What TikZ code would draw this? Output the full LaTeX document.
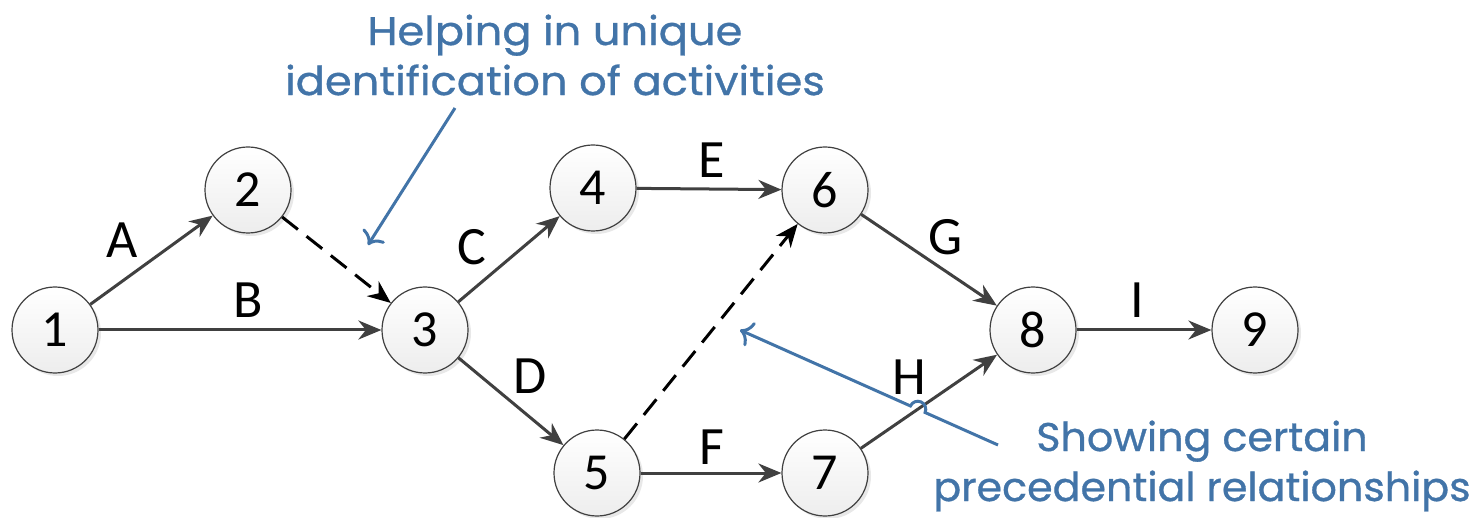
\documentclass[tikz,border=0pt]{standalone}
\usepackage{fontspec}
\setmainfont{Carlito}
\newfontfamily\notefont[FakeStretch=1.08,FakeBold=0.8]{Poppins}
\newfontfamily\notefontnarrow[FakeStretch=1.03,FakeBold=0.8]{Poppins}
\usetikzlibrary{arrows.meta,shadows,calc,intersections}
\definecolor{edgegray}{HTML}{404040}
\definecolor{noteblue}{HTML}{4274A8}
\begin{document}
\begin{tikzpicture}[x=1pt,y=1pt,
  event/.style={circle, draw=edgegray, line width=1.2pt, minimum size=86pt,
    inner sep=0pt, top color=white, bottom color=gray!14,
    drop shadow={shadow xshift=3pt, shadow yshift=-3pt, opacity=0.18},
    font=\fontsize{52}{52}\selectfont},
  activity/.style={draw=edgegray, line width=3pt, -{Stealth[length=23pt,width=19pt]}},
  dummy/.style={draw=black, line width=3pt, dash pattern=on 20pt off 11pt,
    -{Stealth[length=23pt,width=19pt]}},
  actlabel/.style={font=\fontsize{54}{54}\selectfont, inner sep=0pt},
  note/.style={text=noteblue, font=\notefont\fontsize{40}{50}\selectfont, align=center},
  pointer/.style={draw=noteblue, line width=3pt, -{To[length=12pt,width=26pt]}}
]
\useasboundingbox (0,0) rectangle (1477,-518);

% events
\node[event] (n1) at (55,-330) {1};
\node[event] (n2) at (248,-190) {2};
\node[event] (n3) at (425,-330) {3};
\node[event] (n4) at (593,-188) {4};
\node[event] (n5) at (597,-473) {5};
\node[event] (n6) at (825,-190) {6};
\node[event] (n7) at (825,-473) {7};
\node[event] (n8) at (1033,-330) {8};
\node[event] (n9) at (1255,-330) {9};

% activities
\draw[activity] (n1) -- (n2);
\draw[activity] (n1) -- (n3);
\draw[dummy] (n2) -- (n3);
\draw[activity] (n3) -- (n4);
\draw[activity] (n3) -- (n5);
\draw[activity] (n4) -- (n6);
\draw[dummy] (n5) -- (n6);
\draw[activity] (n5) -- (n7);
\draw[activity] (n6) -- (n8);
\draw[activity] (n7) -- (n8);
\draw[activity] (n8) -- (n9);

% activity labels
\node[actlabel] (lA) at (122,-240) {A};
\node[actlabel] (lB) at (248,-300) {B};
\node[actlabel] (lC) at (472,-247) {C};
\node[actlabel] (lD) at (530,-376) {D};
\node[actlabel] (lE) at (712,-160) {E};
\node[actlabel] (lF) at (712,-447) {F};
\node[actlabel] (lG) at (946,-237) {G};
\node[actlabel] (lH) at (909,-377) {H};
\node[actlabel] (lI) at (1137,-300) {I};

% notes
\node[note] (note1) at (555,-55) {Helping in unique\\identification of activities};
\node[note, font=\notefontnarrow\fontsize{40}{50}\selectfont] (note2) at (1202,-466)
  {Showing certain\\precedential relationships};

% pointer to the first dummy
\coordinate (p1s) at (455,-108);
\coordinate (p1t) at (368,-245);
\draw[pointer] (p1s) -- (p1t);

% pointer to the second dummy, hopping over activity H
\coordinate (p2s) at (998,-445);
\coordinate (p2t) at (740,-330);
\path[name path=hline] (n7) -- (n8);
\path[name path=pline] (p2s) -- (p2t);
\path[name intersections={of=hline and pline, by=hx}];
\coordinate (hxa) at ($(hx)!8pt!(p2s)$);
\coordinate (hxb) at ($(hx)!8pt!(p2t)$);
\draw[pointer] (p2s) -- (hxa) arc[start angle=-24.03, end angle=155.97, radius=8pt] -- (p2t);
\end{tikzpicture}
\end{document}
